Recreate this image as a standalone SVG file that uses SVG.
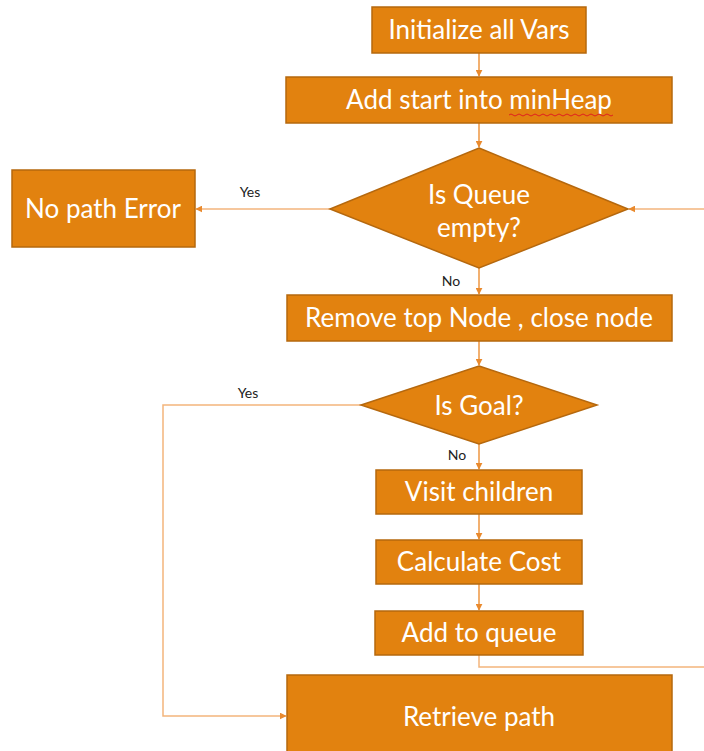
<svg xmlns="http://www.w3.org/2000/svg" width="704" height="751" viewBox="0 0 704 751">
  <style>
    .box { fill: #E2820F; stroke: #B5680E; stroke-width: 1.5; }
    .lbl { fill: #FFFFFF; font-family: Lato, "Open Sans", sans-serif; font-size: 26px; text-anchor: middle; }
    .tag { fill: #222222; font-family: Lato, "Liberation Sans", sans-serif; font-size: 14px; text-anchor: middle; }
    .wire { fill: none; stroke: #EE9640; stroke-width: 1.5; }
    .wire-lt { fill: none; stroke: #F3B57C; stroke-width: 1.5; }
  </style>
  <defs>
    <marker id="arrow" viewBox="0 0 10 10" refX="9" refY="5" markerWidth="7" markerHeight="7" markerUnits="userSpaceOnUse" orient="auto">
      <path d="M0,0 L10,5 L0,10 z" fill="#E98A2E"/>
    </marker>
  </defs>
  <rect width="704" height="751" fill="#FFFFFF"/>

  <g id="connectors">
    <line class="wire" x1="479" y1="53" x2="479" y2="76" marker-end="url(#arrow)"/>
    <line class="wire" x1="479" y1="123" x2="479" y2="147" marker-end="url(#arrow)"/>
    <line class="wire-lt" x1="330" y1="209" x2="196" y2="209" marker-end="url(#arrow)"/>
    <line class="wire-lt" x1="704" y1="209" x2="629" y2="209" marker-end="url(#arrow)"/>
    <line class="wire" x1="479" y1="268" x2="479" y2="294" marker-end="url(#arrow)"/>
    <line class="wire" x1="479" y1="341" x2="479" y2="365" marker-end="url(#arrow)"/>
    <polyline class="wire-lt" points="361,405 163,405 163,716 286,716" marker-end="url(#arrow)"/>
    <line class="wire" x1="479" y1="444" x2="479" y2="469" marker-end="url(#arrow)"/>
    <line class="wire" x1="479" y1="514" x2="479" y2="539" marker-end="url(#arrow)"/>
    <line class="wire" x1="479" y1="584" x2="479" y2="610" marker-end="url(#arrow)"/>
    <polyline class="wire-lt" points="479,655 479,667 704,667"/>
    <text class="tag" x="250" y="197">Yes</text>
    <text class="tag" x="451" y="286">No</text>
    <text class="tag" x="248" y="398">Yes</text>
    <text class="tag" x="457" y="460">No</text>
  </g>

  <g id="init">
    <rect class="box" x="372" y="7" width="214" height="46"/>
    <text class="lbl" x="479" y="39">Initialize all Vars</text>
  </g>

  <g id="add-start">
    <rect class="box" x="286" y="77" width="386" height="46"/>
    <text class="lbl" x="479" y="109">Add start into minHeap</text>
    <path d="M509,115 q2,-2 4,0 t4,0 t4,0 t4,0 t4,0 t4,0 t4,0 t4,0 t4,0 t4,0 t4,0 t4,0 t4,0 t4,0 t4,0 t4,0 t4,0 t4,0 t4,0 t4,0 t4,0 t4,0 t4,0 t4,0 t4,0 t4,0" fill="none" stroke="#E02020" stroke-width="1"/>
  </g>

  <g id="queue-empty">
    <polygon class="box" points="479,148 628,209 479,268 330,209"/>
    <text class="lbl" x="479" y="204">Is Queue</text>
    <text class="lbl" x="479" y="237">empty?</text>
  </g>

  <g id="no-path">
    <rect class="box" x="12" y="170" width="183" height="77"/>
    <text class="lbl" x="103" y="218">No path Error</text>
  </g>

  <g id="remove-top">
    <rect class="box" x="287" y="295" width="385" height="46"/>
    <text class="lbl" x="479" y="327">Remove top Node , close node</text>
  </g>

  <g id="is-goal">
    <polygon class="box" points="479,366 597,405 479,444 361,405"/>
    <text class="lbl" x="479" y="415">Is Goal?</text>
  </g>

  <g id="visit-children">
    <rect class="box" x="376" y="470" width="206" height="44"/>
    <text class="lbl" x="479" y="501">Visit children</text>
  </g>

  <g id="calc-cost">
    <rect class="box" x="376" y="540" width="206" height="44"/>
    <text class="lbl" x="479" y="571">Calculate Cost</text>
  </g>

  <g id="add-queue">
    <rect class="box" x="375" y="611" width="208" height="44"/>
    <text class="lbl" x="479" y="642">Add to queue</text>
  </g>

  <g id="retrieve-path">
    <rect class="box" x="287" y="675" width="385" height="90"/>
    <text class="lbl" x="479" y="726">Retrieve path</text>
  </g>
</svg>
